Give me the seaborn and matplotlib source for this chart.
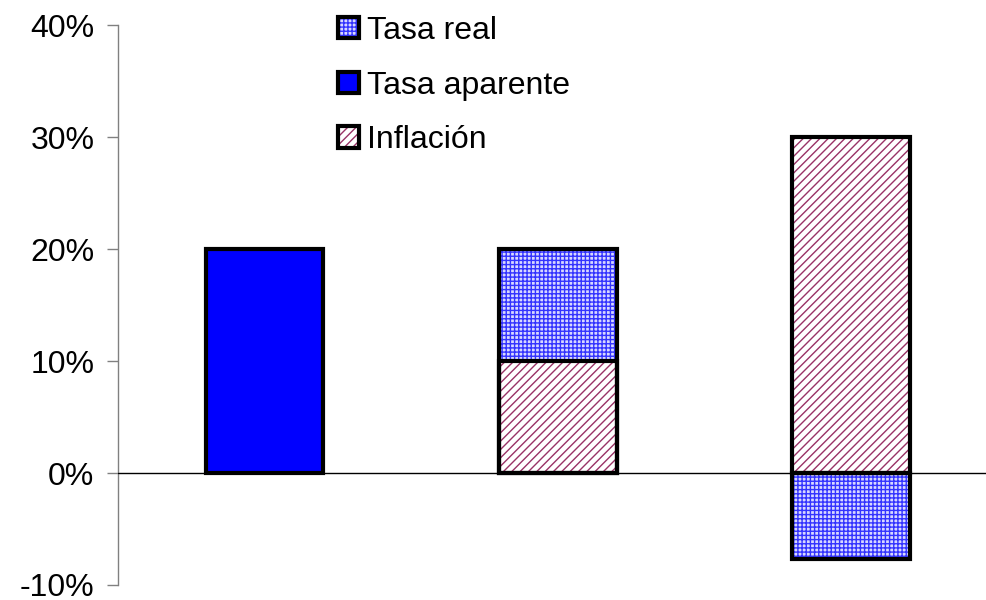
import numpy as np
import pandas as pd
import seaborn as sns
import matplotlib
matplotlib.use("Agg")
import matplotlib.pyplot as plt
from matplotlib.patches import Patch
from matplotlib.legend_handler import HandlerTuple

sns.set_style("white")
plt.rcParams["font.family"] = ["Liberation Sans", "DejaVu Sans"]
plt.rcParams["hatch.linewidth"] = 1.0
plt.rcParams["text.color"] = "black"
plt.rcParams["ytick.labelcolor"] = "black"

# Scenarios (three bars), values in percent
escenarios = ["A", "B", "C"]
tasa_aparente = [20.0, np.nan, np.nan]
inflacion = [np.nan, 10.0, 30.0]
tasa_real = [np.nan, 10.0, -7.7]
yticks = [-10, 0, 10, 20, 30, 40]

infl = np.array(inflacion)
real = np.array(tasa_real)
# real rate stacks on top of inflation when both are positive, else hangs from zero
real_top = np.where(real > 0, np.nan_to_num(infl) + real, real)

df = pd.DataFrame({
    "escenario": escenarios,
    "aparente": tasa_aparente,
    "inflacion": inflacion,
    "real_top": real_top,
})

fig = plt.figure(figsize=(9.86, 6.0), dpi=100)
ax = fig.add_axes([0.1197, 0.025, 0.8803, 0.933])

BLUE = "#0000FF"
REAL_FACE = "#D8D8FF"
REAL_HATCH = "#3333FF"
INFL_HATCH = "#993366"
W = 0.4
LW = 3.0
FS = 23


def layer(col, face, hatch, hatch_color):
    n0 = len(ax.patches)
    sns.barplot(data=df, x="escenario", y=col, ax=ax, width=W,
                color=face, saturation=1, errorbar=None, order=escenarios)
    new = ax.patches[n0:]
    for p in new:
        p.set_facecolor(face)
        p.set_edgecolor(hatch_color if hatch else "black")
        p.set_hatch(hatch)
        p.set_linewidth(0 if hatch else LW)
    return new


def outline(patches):
    for p in patches:
        if np.isnan(p.get_height()) or p.get_height() == 0:
            continue
        ax.add_patch(plt.Rectangle((p.get_x(), p.get_y()), p.get_width(),
                                   p.get_height(), fill=False,
                                   edgecolor="black", linewidth=LW, zorder=3))


pa = layer("aparente", BLUE, None, None)
pr = layer("real_top", REAL_FACE, "++++", REAL_HATCH)
pi = layer("inflacion", "white", "////", INFL_HATCH)
outline(pr)
outline(pi)

ax.axhline(0, color="black", linewidth=1.0, zorder=4)

ax.set_xlim(-0.5, 2.46)
ax.set_ylim(-10, 40)
ax.set_yticks(yticks)
ax.set_yticklabels([f"{v}%" for v in yticks], fontsize=FS, color="black")
ax.set_xticks([])
ax.set_xlabel("")
ax.set_ylabel("")
for s in ["top", "right", "bottom"]:
    ax.spines[s].set_visible(False)
ax.spines["left"].set_color("#808080")
ax.spines["left"].set_linewidth(1.0)
ax.tick_params(axis="y", direction="out", length=8, width=1.0,
               color="#808080", pad=9, left=True)


def swatch(face, hatch=None, hatch_color=None):
    fill = Patch(facecolor=face, edgecolor=hatch_color or face,
                 linewidth=0, hatch=hatch)
    box = Patch(facecolor="none", edgecolor="black", linewidth=3)
    return (fill, box)


handles = [
    swatch(REAL_FACE, "++++", REAL_HATCH),
    swatch(BLUE),
    swatch("white", "////", INFL_HATCH),
]
leg = ax.legend(handles, ["Tasa real", "Tasa aparente", "Inflación"],
                handler_map={tuple: HandlerTuple(ndivide=1, pad=0)},
                loc="upper left", bbox_to_anchor=(0.239, 1.04), frameon=False,
                fontsize=FS, handlelength=0.66, handleheight=0.66,
                handletextpad=0.25, labelspacing=0.78, borderaxespad=0)

fig.savefig("out.png", dpi=100)
